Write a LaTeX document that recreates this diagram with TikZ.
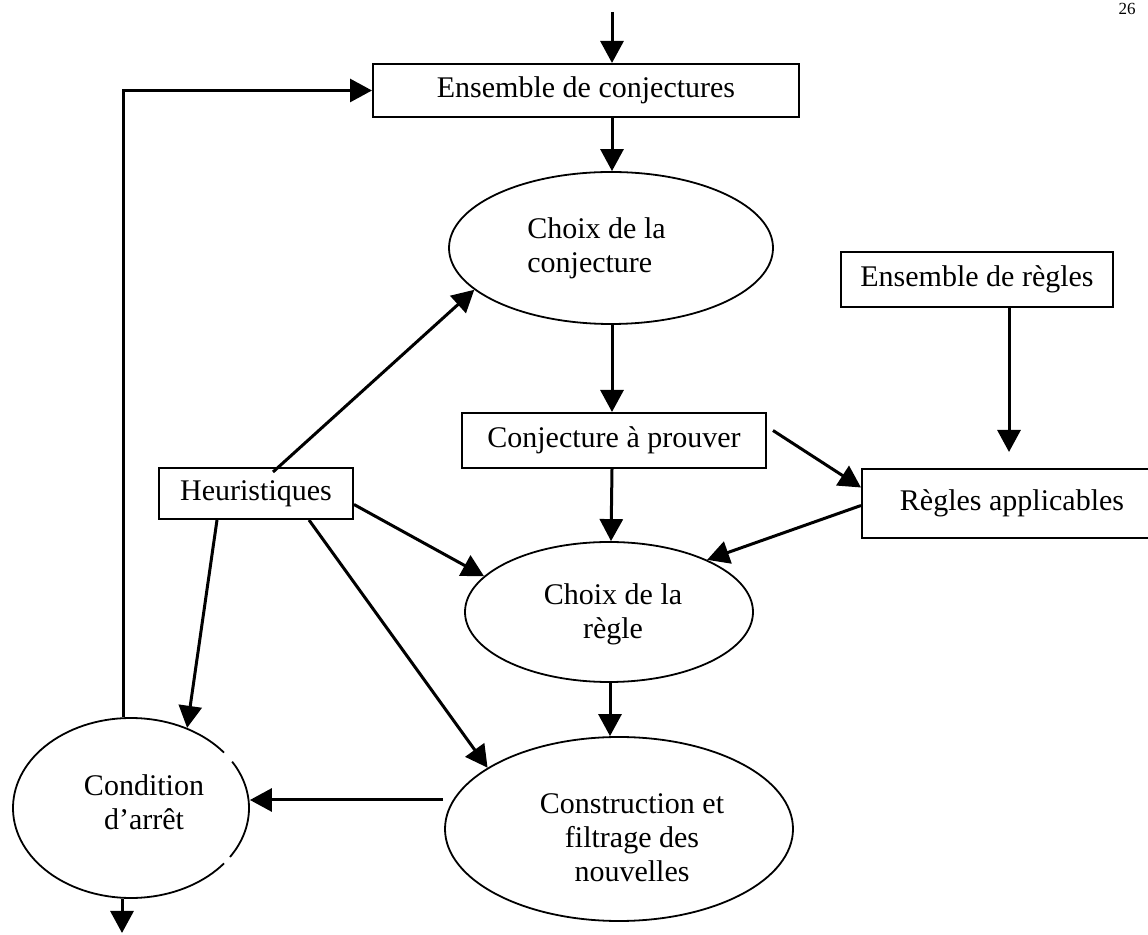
\documentclass[tikz,border=0pt]{standalone}
\usepackage{fontspec}
\setmainfont{Liberation Serif}
\usetikzlibrary{arrows.meta,shapes.geometric,calc}

\begin{document}
\begin{tikzpicture}[x=1pt,y=1pt,
  box/.style={draw, line width=2pt, rectangle, inner sep=0pt,
              font=\fontsize{30}{34}\selectfont},
  oval/.style={draw, line width=1.8pt, ellipse, inner sep=0pt},
  ovalline/.style={line width=1.8pt},
  ovaltext/.style={font=\fontsize{30}{34}\selectfont, inner sep=0pt, align=center},
  flow/.style={line width=3pt, -{Triangle[length=22pt,width=23pt]}},
  pagenum/.style={font=\fontsize{17}{20}\selectfont, inner sep=0pt, anchor=base}
]
\useasboundingbox (0,0) rectangle (1148,934);
\clip (0,0) rectangle (1148,934);
\fill[white] (0,0) rectangle (1148,934);

% page number
\node[pagenum] (page) at (1127,919) {26};

% rectangular boxes
\node[box, minimum width=426pt, minimum height=53pt] (conjset)   at (586,843.5) {Ensemble de conjectures};
\node[box, minimum width=304pt, minimum height=55pt] (conjprove) at (614,493.5) {Conjecture à prouver};
\node[box, minimum width=272pt, minimum height=55pt] (ruleset)   at (977,654.5) {Ensemble de règles};
\node[box, minimum width=300pt, minimum height=69pt] (ruleapp)   at (1012,430.5) {Règles applicables};
\node[box, minimum width=194pt, minimum height=51pt] (heur)      at (256,440.5) {Heuristiques};

% elliptic steps
\node[oval, minimum width=324pt, minimum height=152pt] (choixconj)  at (611,686) {};
\node[oval, minimum width=288pt, minimum height=140pt] (choixregle) at (609,322) {};
\node[oval, minimum width=348pt, minimum height=184pt] (constr)     at (619,105) {};
\node[oval, draw=none, minimum width=236pt, minimum height=180pt] (cond) at (131,126) {};

% outline of the stop condition, with its two small breaks
\draw[ovalline] (cond.center) ++(38:118 and 90)
  arc[start angle=38, end angle=322, x radius=118, y radius=90];
\draw[ovalline] (cond.center) ++(-33:118 and 90)
  arc[start angle=-33, end angle=31, x radius=118, y radius=90];

% labels of the elliptic steps
\node[ovaltext, align=left] (tconj)   at (596.5,685.5) {Choix de la\\conjecture};
\node[ovaltext]             (tregle)  at (613,319.7)   {Choix de la\\règle};
\node[ovaltext]             (tconstr) at (632,96.7)    {Construction et\\filtrage des\\nouvelles};
\node[ovaltext]             (tcond)   at (144,131.6)   {Condition\\d’arrêt};

% main vertical flow
\coordinate (topin) at (612,922);
\draw[flow] (topin) -- (topin |- conjset.north);
\draw[flow] (conjset.south -| topin) -- (choixconj.north -| topin);
\draw[flow] (choixconj.south -| topin) -- (conjprove.north -| topin);
\draw[flow] (conjprove.south -| topin) -- ([xshift=-1pt]choixregle.north -| topin);
\coordinate (midx) at (610,0);
\draw[flow] (choixregle.south -| midx) -- (constr.north -| midx);

% rules
\coordinate (ruletip) at (1009,482);
\draw[flow] (ruleset.south -| ruletip) -- (ruletip);
\draw[flow] ([xshift=6pt,yshift=10pt]conjprove.east) -- ([yshift=16pt]ruleapp.west);
\draw[flow] ([yshift=-2pt]ruleapp.west) -- (choixregle.28);

% heuristics
\draw[flow] ([xshift=17pt,yshift=-5pt]heur.north) -- (choixconj.197);
\draw[flow] ([yshift=-11pt]heur.east) -- (choixregle.164);
\draw[flow] ([xshift=53pt]heur.south) -- (constr.155);
\draw[flow] ([xshift=-39pt]heur.south) -- (cond.55);

% stop test and loop back
\coordinate (ctail) at (443,134);
\draw[flow] (ctail) -- (ctail -| cond.east);
\coordinate (bend) at (123,843.5);
\draw[flow] (bend |- cond.north) -- (bend) -- (conjset.west |- bend);
\coordinate (exit) at (122,1);
\draw[flow] (exit |- cond.south) -- (exit);
\end{tikzpicture}
\end{document}
